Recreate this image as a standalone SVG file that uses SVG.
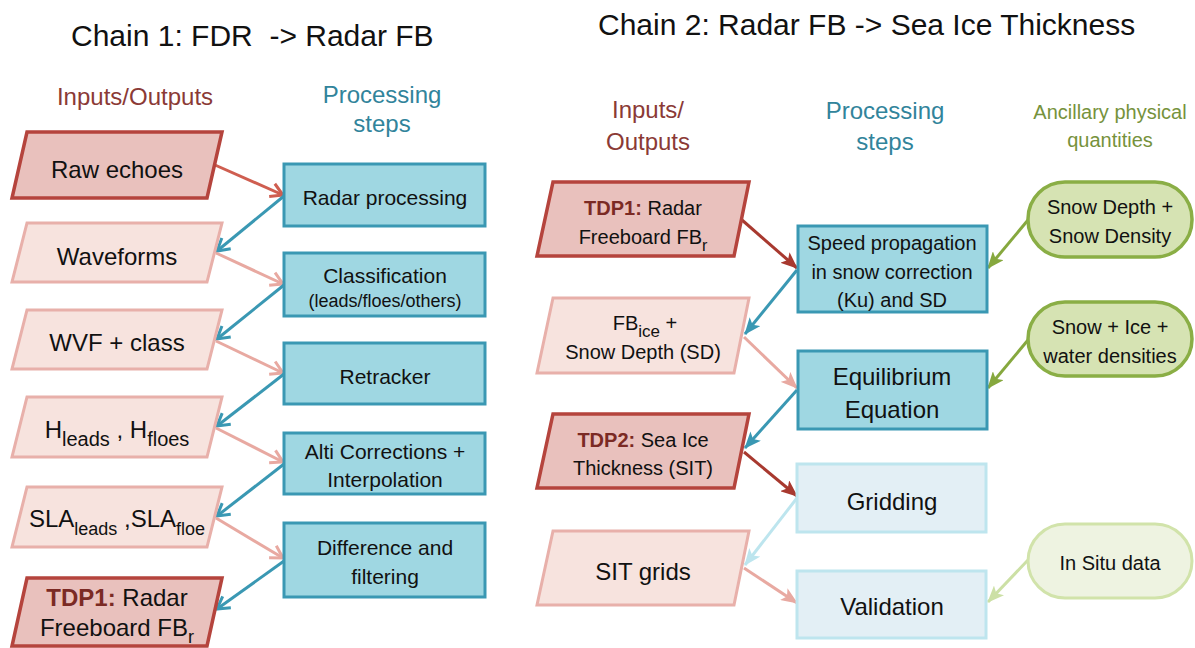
<svg xmlns="http://www.w3.org/2000/svg" width="1195" height="648" viewBox="0 0 1195 648">
<defs>
<style>
text{font-family:"Liberation Sans",Arial,sans-serif;fill:#111;text-anchor:middle}
.title{font-size:30px;text-anchor:start;white-space:pre}
.hred{font-size:24px;fill:#8B3A36}
.hteal{font-size:24px;fill:#31849B}
.hgreen{font-size:20px;fill:#76923C}
.t24{font-size:24px}
.t21{font-size:21px}
.t20{font-size:20px}
.t18{font-size:18px}
.tdp{font-weight:bold;fill:#7B2A24}
.pd{fill:#E9C1BD;stroke:#B5443D;stroke-width:3.5;stroke-linejoin:miter}
.pl{fill:#F7E3DE;stroke:#E8B0AA;stroke-width:3}
.bx{fill:#9FD7E2;stroke:#3A98B3;stroke-width:3}
.bl{fill:#E3EFF5;stroke:#BEE5EE;stroke-width:3}
.gr{fill:#D6E3B3;stroke:#8AAE45;stroke-width:3.5}
.gl{fill:#EEF3E1;stroke:#D1E3AA;stroke-width:3}
.c{fill:none;stroke-width:3}
.red1{stroke:#CF5E50;marker-end:url(#oRed)}
.teal1{stroke:#3A98B3;marker-end:url(#oTeal)}
.pink1{stroke:#E8A9A1;marker-end:url(#oPink)}
.red2{stroke:#A8392F;marker-end:url(#fRed)}
.teal2{stroke:#3A98B3;marker-end:url(#fTeal)}
.pink2{stroke:#E8A9A1;marker-end:url(#fPink)}
.green2{stroke:#86A83E;marker-end:url(#fGreen)}
.lblue2{stroke:#BDE5EE;marker-end:url(#fLblue)}
.lgreen2{stroke:#CCE0A5;marker-end:url(#fLgreen)}
</style>
<marker id="oRed" markerUnits="userSpaceOnUse" markerWidth="18" markerHeight="18" viewBox="0 0 18 18" refX="15" refY="9" orient="auto"><path d="M3,2 L15,9 L3,16" fill="none" stroke="#CF5E50" stroke-width="3"/></marker>
<marker id="oTeal" markerUnits="userSpaceOnUse" markerWidth="18" markerHeight="18" viewBox="0 0 18 18" refX="15" refY="9" orient="auto"><path d="M3,2 L15,9 L3,16" fill="none" stroke="#3A98B3" stroke-width="3"/></marker>
<marker id="oPink" markerUnits="userSpaceOnUse" markerWidth="18" markerHeight="18" viewBox="0 0 18 18" refX="15" refY="9" orient="auto"><path d="M3,2 L15,9 L3,16" fill="none" stroke="#E8A9A1" stroke-width="3"/></marker>
<marker id="fRed" markerUnits="userSpaceOnUse" markerWidth="17" markerHeight="14" viewBox="0 0 17 14" refX="16" refY="7" orient="auto"><path d="M0,0 L17,7 L0,14 L4,7 z" fill="#A8392F"/></marker>
<marker id="fTeal" markerUnits="userSpaceOnUse" markerWidth="17" markerHeight="14" viewBox="0 0 17 14" refX="16" refY="7" orient="auto"><path d="M0,0 L17,7 L0,14 L4,7 z" fill="#3A98B3"/></marker>
<marker id="fPink" markerUnits="userSpaceOnUse" markerWidth="17" markerHeight="14" viewBox="0 0 17 14" refX="16" refY="7" orient="auto"><path d="M0,0 L17,7 L0,14 L4,7 z" fill="#E8A9A1"/></marker>
<marker id="fGreen" markerUnits="userSpaceOnUse" markerWidth="17" markerHeight="14" viewBox="0 0 17 14" refX="16" refY="7" orient="auto"><path d="M0,0 L17,7 L0,14 L4,7 z" fill="#86A83E"/></marker>
<marker id="fLblue" markerUnits="userSpaceOnUse" markerWidth="17" markerHeight="14" viewBox="0 0 17 14" refX="16" refY="7" orient="auto"><path d="M0,0 L17,7 L0,14 L4,7 z" fill="#BDE5EE"/></marker>
<marker id="fLgreen" markerUnits="userSpaceOnUse" markerWidth="17" markerHeight="14" viewBox="0 0 17 14" refX="16" refY="7" orient="auto"><path d="M0,0 L17,7 L0,14 L4,7 z" fill="#CCE0A5"/></marker>
</defs>
<rect width="1195" height="648" fill="#fff"/>

<g id="titles">
<text class="title" x="71" y="46">Chain 1: FDR  -&gt; Radar FB</text>
<text class="title" x="598" y="35">Chain 2: Radar FB -&gt; Sea Ice Thickness</text>
<text class="hred" x="135" y="105">Inputs/Outputs</text>
<text class="hteal" x="382" y="103">Processing</text>
<text class="hteal" x="382" y="132">steps</text>
<text class="hred" x="648" y="118">Inputs/</text>
<text class="hred" x="648" y="150">Outputs</text>
<text class="hteal" x="885" y="119">Processing</text>
<text class="hteal" x="885" y="150">steps</text>
<text class="hgreen" x="1110" y="119">Ancillary physical</text>
<text class="hgreen" x="1110" y="147">quantities</text>
</g>

<g id="connectors">
<line class="c red1" x1="215" y1="165" x2="283" y2="195"/>
<line class="c teal1" x1="284" y1="196" x2="217" y2="251"/>
<line class="c pink1" x1="216" y1="253" x2="283" y2="284"/>
<line class="c teal1" x1="284" y1="285" x2="217" y2="339"/>
<line class="c pink1" x1="216" y1="341" x2="283" y2="373"/>
<line class="c teal1" x1="284" y1="374" x2="217" y2="426"/>
<line class="c pink1" x1="216" y1="428" x2="283" y2="462"/>
<line class="c teal1" x1="284" y1="464" x2="217" y2="516"/>
<line class="c pink1" x1="216" y1="518" x2="283" y2="558"/>
<line class="c teal1" x1="284" y1="561" x2="217" y2="609"/>

<line class="c red2" x1="742" y1="220" x2="797" y2="268"/>
<line class="c teal2" x1="797" y1="270" x2="745" y2="334"/>
<line class="c green2" x1="1028" y1="220" x2="988" y2="268"/>
<line class="c pink2" x1="744" y1="337" x2="797" y2="388"/>
<line class="c green2" x1="1028" y1="340" x2="988" y2="388"/>
<line class="c teal2" x1="797" y1="390" x2="745" y2="448"/>
<line class="c red2" x1="744" y1="452" x2="797" y2="496"/>
<line class="c lblue2" x1="797" y1="498" x2="745" y2="565"/>
<line class="c pink2" x1="744" y1="568" x2="797" y2="603"/>
<line class="c lgreen2" x1="1028" y1="560" x2="988" y2="602"/>
</g>

<g id="n-raw-echoes">
<polygon class="pd" points="27,132 222,132 207,198 12,198"/>
<text class="t24" x="117" y="178">Raw echoes</text>
</g>
<g id="n-waveforms">
<polygon class="pl" points="27,223 222,223 207,282 12,282"/>
<text class="t24" x="117" y="265">Waveforms</text>
</g>
<g id="n-wvf-class">
<polygon class="pl" points="27,310 222,310 207,369 12,369"/>
<text class="t24" x="117" y="351">WVF + class</text>
</g>
<g id="n-heights">
<polygon class="pl" points="27,397 222,397 207,457 12,457"/>
<text class="t24" x="117" y="438">H<tspan style="font-size:20px" dy="8">leads</tspan><tspan dy="-8"> , H</tspan><tspan style="font-size:20px" dy="8">floes</tspan></text>
</g>
<g id="n-sla">
<polygon class="pl" points="27,487 222,487 207,547 12,547"/>
<text class="t24" x="117" y="527">SLA<tspan class="t18" dy="8">leads</tspan><tspan dy="-8"> ,SLA</tspan><tspan class="t18" dy="8">floe</tspan></text>
</g>
<g id="n-tdp1-left">
<polygon class="pd" points="27,578 222,578 207,646 12,646"/>
<text class="t24" x="117" y="606"><tspan class="tdp">TDP1:</tspan> Radar</text>
<text class="t24" x="117" y="636">Freeboard FB<tspan class="t18" dy="7">r</tspan></text>
</g>

<g id="n-radar-processing">
<rect class="bx" x="284" y="164" width="201" height="62"/>
<text class="t21" x="385" y="205">Radar processing</text>
</g>
<g id="n-classification">
<rect class="bx" x="284" y="253" width="201" height="63"/>
<text class="t21" x="385" y="283">Classification</text>
<text class="t18" x="385" y="307">(leads/floes/others)</text>
</g>
<g id="n-retracker">
<rect class="bx" x="284" y="343" width="201" height="61"/>
<text class="t21" x="385" y="384">Retracker</text>
</g>
<g id="n-alti">
<rect class="bx" x="284" y="433" width="201" height="61"/>
<text class="t21" x="385" y="459">Alti Corrections +</text>
<text class="t21" x="385" y="487">Interpolation</text>
</g>
<g id="n-difference">
<rect class="bx" x="284" y="523" width="201" height="74"/>
<text class="t21" x="385" y="555">Difference and</text>
<text class="t21" x="385" y="584">filtering</text>
</g>

<g id="n-tdp1-right">
<polygon class="pd" points="553,182 749,182 734,256 537,256"/>
<text class="t20" x="643" y="215"><tspan class="tdp">TDP1:</tspan> Radar</text>
<text class="t20" x="643" y="244">Freeboard FB<tspan style="font-size:16px" dy="7">r</tspan></text>
</g>
<g id="n-fbice">
<polygon class="pl" points="553,298 749,298 734,373 537,373"/>
<text class="t20" x="645" y="330">FB<tspan style="font-size:17px" dy="7">ice</tspan><tspan dy="-7"> +</tspan></text>
<text class="t20" x="643" y="359">Snow Depth (SD)</text>
</g>
<g id="n-tdp2">
<polygon class="pd" points="553,414 749,414 734,488 537,488"/>
<text class="t20" x="643" y="447"><tspan class="tdp">TDP2:</tspan> Sea Ice</text>
<text class="t20" x="643" y="475">Thickness (SIT)</text>
</g>
<g id="n-sit-grids">
<polygon class="pl" points="553,531 749,531 734,605 537,605"/>
<text class="t24" x="643" y="580">SIT grids</text>
</g>

<g id="n-speed">
<rect class="bx" x="798" y="226" width="189" height="86"/>
<text class="t20" x="892" y="250">Speed propagation</text>
<text class="t20" x="892" y="279">in snow correction</text>
<text class="t20" x="892" y="307">(Ku) and SD</text>
</g>
<g id="n-equilibrium">
<rect class="bx" x="798" y="351" width="189" height="78"/>
<text class="t24" x="892" y="385">Equilibrium</text>
<text class="t24" x="892" y="418">Equation</text>
</g>
<g id="n-gridding">
<rect class="bl" x="797" y="464" width="189" height="68"/>
<text class="t24" x="892" y="510">Gridding</text>
</g>
<g id="n-validation">
<rect class="bl" x="797" y="571" width="189" height="67"/>
<text class="t24" x="892" y="615">Validation</text>
</g>

<g id="n-snow-depth">
<rect class="gr" x="1028" y="182" width="164" height="75" rx="37" ry="37"/>
<text class="t20" x="1110" y="214">Snow Depth +</text>
<text class="t20" x="1110" y="243">Snow Density</text>
</g>
<g id="n-densities">
<rect class="gr" x="1028" y="302" width="164" height="74" rx="37" ry="37"/>
<text class="t20" x="1110" y="334">Snow + Ice +</text>
<text class="t20" x="1110" y="363">water densities</text>
</g>
<g id="n-insitu">
<rect class="gl" x="1028" y="524" width="164" height="74" rx="37" ry="37"/>
<text class="t20" x="1110" y="570">In Situ data</text>
</g>
</svg>
